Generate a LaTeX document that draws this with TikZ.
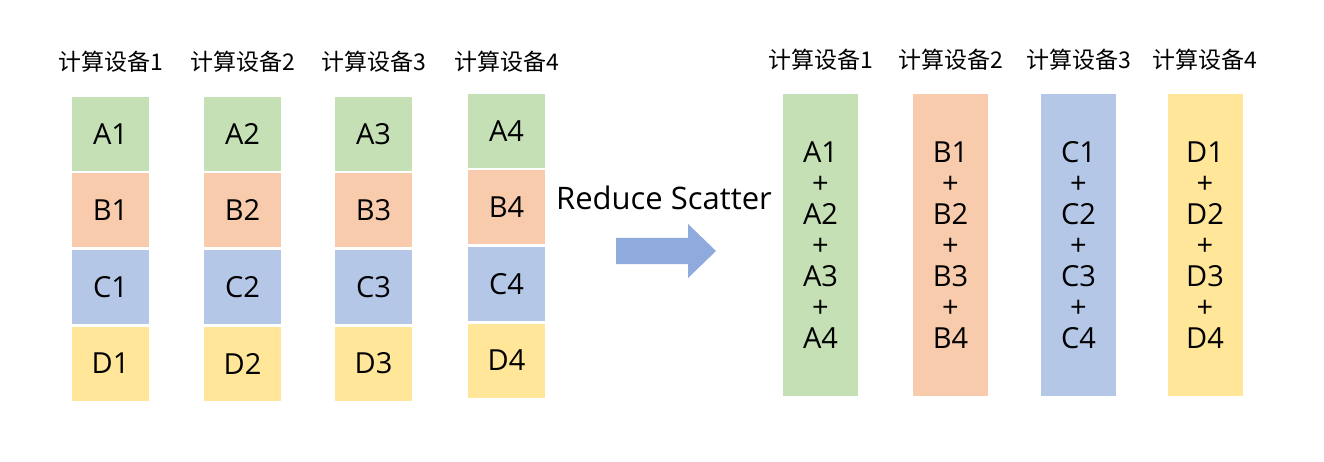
\documentclass[tikz,border=0pt]{standalone}
\usepackage{fontspec}
\setmainfont{Open Sans}
\newfontfamily\cjk{Noto Sans CJK SC}
\definecolor{cA}{HTML}{C5E0B4}
\definecolor{cB}{HTML}{F8CBAD}
\definecolor{cC}{HTML}{B4C7E7}
\definecolor{cD}{HTML}{FFE699}
\definecolor{arrowblue}{HTML}{8FAADC}
\begin{document}
\begin{tikzpicture}[x=1pt,y=-1pt,
  lbl/.style={inner sep=0pt, font=\cjk\fontsize{23}{26}\selectfont},
  cell/.style={minimum width=77pt, minimum height=74pt, inner sep=0pt, font=\fontsize{29}{31}\selectfont},
  tall/.style={minimum width=75pt, minimum height=302pt, inner sep=0pt, align=center, font=\fontsize{29}{31}\selectfont},
  title/.style={inner sep=0pt, font=\fontsize{31}{34}\selectfont}]
\useasboundingbox[fill=white] (0,0) rectangle (1324,462);
\foreach \c/\x/\dy in {1/110.5/0, 2/242.5/0, 3/373.5/0, 4/506.5/-3} {
  \node[lbl] (h\c) at (\x,62) {计算设备\c};
  \node[cell, fill=cA] (A\c) at (\x,134+\dy) {A\c};
  \node[cell, fill=cB] (B\c) at (\x,210+\dy) {B\c};
  \node[cell, fill=cC] (C\c) at (\x,287+\dy) {C\c};
  \node[cell, fill=cD] (D\c) at (\x,363.5+\dy) {D\c};
}
\node[title] (rs) at (664,198) {Reduce Scatter};
\fill[arrowblue] (616,238) -- (688,238) -- (688,224) -- (716,251) -- (688,278) -- (688,264) -- (616,264) -- cycle;
\foreach \c/\x/\L/\col in {1/820.5/A/cA, 2/950.5/B/cB, 3/1078.5/C/cC, 4/1205/D/cD} {
  \node[lbl] (rh\c) at (\x,60) {计算设备\c};
  \node[tall, fill=\col] (R\c) at (\x,245) {\L1\\+\\\L2\\+\\\L3\\+\\\L4};
}
\end{tikzpicture}
\end{document}
